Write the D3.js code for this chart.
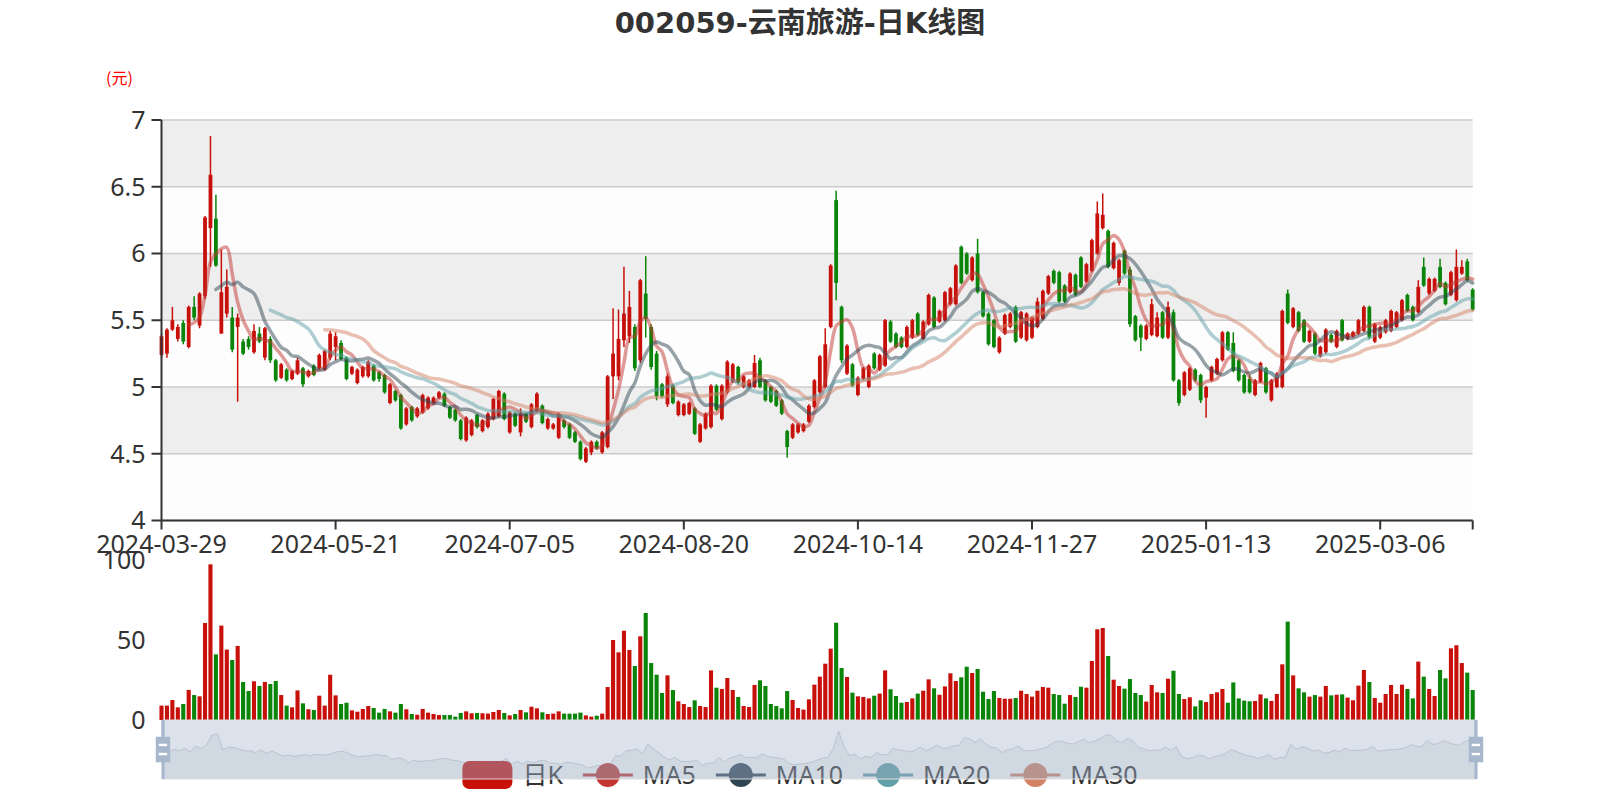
<!DOCTYPE html>
<html><head><meta charset="utf-8">
<script src="https://cdn.jsdelivr.net/npm/d3@7"></script>
<style>body{margin:0;background:#fff;}svg{display:block;}</style>
</head><body>
<svg id="chart" width="1600" height="800"></svg>
<script>
// ---------- DATA ----------
const titleText = "002059-云南旅游-日K线图";
const dates = [
"2024-03-29",
"2024-04-01","2024-04-02","2024-04-03","2024-04-08","2024-04-09","2024-04-10","2024-04-11","2024-04-12","2024-04-15","2024-04-16","2024-04-17","2024-04-18","2024-04-19","2024-04-22","2024-04-23","2024-04-24","2024-04-25","2024-04-26","2024-04-29","2024-04-30",
"2024-05-06","2024-05-07","2024-05-08","2024-05-09","2024-05-10","2024-05-13","2024-05-14","2024-05-15","2024-05-16","2024-05-17","2024-05-20","2024-05-21","2024-05-22","2024-05-23","2024-05-24","2024-05-27","2024-05-28","2024-05-29","2024-05-30","2024-05-31",
"2024-06-03","2024-06-04","2024-06-05","2024-06-06","2024-06-07","2024-06-11","2024-06-12","2024-06-13","2024-06-14","2024-06-17","2024-06-18","2024-06-19","2024-06-20","2024-06-21","2024-06-24","2024-06-25","2024-06-26","2024-06-27","2024-06-28",
"2024-07-01","2024-07-02","2024-07-03","2024-07-04","2024-07-05","2024-07-08","2024-07-09","2024-07-10","2024-07-11","2024-07-12","2024-07-15","2024-07-16","2024-07-17","2024-07-18","2024-07-19","2024-07-22","2024-07-23","2024-07-24","2024-07-25","2024-07-26","2024-07-29","2024-07-30","2024-07-31",
"2024-08-01","2024-08-02","2024-08-05","2024-08-06","2024-08-07","2024-08-08","2024-08-09","2024-08-12","2024-08-13","2024-08-14","2024-08-15","2024-08-16","2024-08-19","2024-08-20","2024-08-21","2024-08-22","2024-08-23","2024-08-26","2024-08-27","2024-08-28","2024-08-29","2024-08-30",
"2024-09-02","2024-09-03","2024-09-04","2024-09-05","2024-09-06","2024-09-09","2024-09-10","2024-09-11","2024-09-12","2024-09-13","2024-09-18","2024-09-19","2024-09-20","2024-09-23","2024-09-24","2024-09-25","2024-09-26","2024-09-27","2024-09-30",
"2024-10-08","2024-10-09","2024-10-10","2024-10-11","2024-10-14","2024-10-15","2024-10-16","2024-10-17","2024-10-18","2024-10-21","2024-10-22","2024-10-23","2024-10-24","2024-10-25","2024-10-28","2024-10-29","2024-10-30","2024-10-31",
"2024-11-01","2024-11-04","2024-11-05","2024-11-06","2024-11-07","2024-11-08","2024-11-11","2024-11-12","2024-11-13","2024-11-14","2024-11-15","2024-11-18","2024-11-19","2024-11-20","2024-11-21","2024-11-22","2024-11-25","2024-11-26","2024-11-27","2024-11-28","2024-11-29",
"2024-12-02","2024-12-03","2024-12-04","2024-12-05","2024-12-06","2024-12-09","2024-12-10","2024-12-11","2024-12-12","2024-12-13","2024-12-16","2024-12-17","2024-12-18","2024-12-19","2024-12-20","2024-12-23","2024-12-24","2024-12-25","2024-12-26","2024-12-27","2024-12-30","2024-12-31",
"2025-01-02","2025-01-03","2025-01-06","2025-01-07","2025-01-08","2025-01-09","2025-01-10","2025-01-13","2025-01-14","2025-01-15","2025-01-16","2025-01-17","2025-01-20","2025-01-21","2025-01-22","2025-01-23","2025-01-24","2025-01-27",
"2025-02-05","2025-02-06","2025-02-07","2025-02-10","2025-02-11","2025-02-12","2025-02-13","2025-02-14","2025-02-17","2025-02-18","2025-02-19","2025-02-20","2025-02-21","2025-02-24","2025-02-25","2025-02-26","2025-02-27","2025-02-28",
"2025-03-03","2025-03-04","2025-03-05","2025-03-06","2025-03-07","2025-03-10","2025-03-11","2025-03-12","2025-03-13","2025-03-14","2025-03-17","2025-03-18","2025-03-19","2025-03-20","2025-03-21","2025-03-24","2025-03-25","2025-03-26","2025-03-27","2025-03-28","2025-03-31"
];
// [open, close, low, high]
const kData = [
[5.24,5.38,5.22,5.40],[5.25,5.43,5.22,5.44],[5.43,5.50,5.42,5.60],[5.36,5.45,5.34,5.47],[5.48,5.34,5.32,5.50],
[5.30,5.60,5.29,5.61],[5.60,5.52,5.50,5.68],[5.46,5.70,5.44,5.71],[5.68,6.27,5.66,6.28],[6.19,6.59,5.90,6.88],
[6.26,5.91,5.90,6.44],[5.40,5.71,5.40,6.03],[5.55,5.75,5.52,5.88],[5.52,5.28,5.26,5.60],[5.45,5.52,4.89,5.55],
[5.34,5.25,5.24,5.36],[5.36,5.30,5.28,5.38],[5.26,5.42,5.25,5.47],[5.40,5.34,5.33,5.45],[5.22,5.44,5.20,5.45],
[5.36,5.20,5.18,5.38],[5.20,5.05,5.04,5.21],[5.07,5.17,5.06,5.18],[5.13,5.05,5.04,5.14],[5.06,5.12,5.05,5.13],
[5.10,5.20,5.09,5.22],[5.14,5.02,5.00,5.15],[5.08,5.12,5.07,5.13],[5.16,5.09,5.08,5.17],[5.14,5.24,5.13,5.25],
[5.13,5.27,5.12,5.28],[5.22,5.40,5.20,5.42],[5.30,5.38,5.20,5.41],[5.33,5.21,5.20,5.35],[5.22,5.06,5.05,5.23],
[5.10,5.15,5.09,5.16],[5.03,5.13,5.02,5.14],[5.08,5.15,5.07,5.16],[5.08,5.19,5.07,5.20],[5.16,5.05,5.04,5.17],
[5.11,5.06,5.04,5.12],[5.09,4.96,4.95,5.10],[4.88,5.02,4.87,5.03],[4.97,4.90,4.89,4.98],[4.94,4.69,4.68,4.95],
[4.72,4.84,4.71,4.85],[4.85,4.75,4.74,4.86],[4.78,4.84,4.77,4.85],[4.81,4.94,4.80,4.95],[4.84,4.92,4.83,4.93],
[4.88,4.92,4.87,4.93],[4.92,4.96,4.91,4.97],[4.95,4.86,4.85,4.96],[4.85,4.77,4.76,4.86],[4.83,4.75,4.74,4.84],
[4.75,4.61,4.60,4.76],[4.60,4.77,4.59,4.78],[4.64,4.75,4.63,4.76],[4.79,4.70,4.69,4.80],[4.67,4.75,4.66,4.76],
[4.70,4.80,4.69,4.81],[4.76,4.91,4.75,4.92],[4.78,4.97,4.77,4.98],[4.95,4.76,4.75,4.96],[4.66,4.81,4.65,4.82],
[4.80,4.71,4.70,4.81],[4.66,4.80,4.63,4.84],[4.80,4.74,4.73,4.81],[4.70,4.87,4.69,4.88],[4.82,4.95,4.81,4.96],
[4.86,4.73,4.72,4.87],[4.69,4.76,4.68,4.77],[4.69,4.72,4.68,4.73],[4.62,4.80,4.61,4.81],[4.75,4.70,4.69,4.76],
[4.72,4.62,4.61,4.73],[4.66,4.59,4.58,4.67],[4.59,4.46,4.45,4.60],[4.44,4.54,4.43,4.55],[4.51,4.59,4.49,4.60],
[4.59,4.54,4.53,4.60],[4.51,4.66,4.50,4.67],[4.55,5.08,4.54,5.09],[5.08,5.25,4.91,5.59],[5.08,5.36,5.05,5.58],
[5.35,5.55,5.30,5.90],[5.38,5.60,5.33,5.72],[5.45,5.14,5.12,5.47],[5.20,5.80,5.18,5.81],[5.70,5.51,5.37,5.98],
[5.45,5.15,5.13,5.47],[5.25,4.93,4.90,5.27],[5.02,4.93,4.92,5.03],[4.87,5.08,4.85,5.10],[5.01,4.88,4.87,5.02],
[4.79,4.89,4.78,4.90],[4.79,4.87,4.78,4.88],[4.80,4.88,4.79,4.89],[4.84,4.65,4.64,4.85],[4.59,4.72,4.58,4.73],
[4.69,4.80,4.68,4.81],[4.70,5.01,4.69,5.02],[5.01,4.83,4.82,5.02],[4.76,5.01,4.75,5.02],[4.96,5.19,4.95,5.20],
[5.04,5.17,5.03,5.18],[5.15,5.03,5.02,5.16],[5.00,5.08,4.99,5.09],[5.00,5.05,4.99,5.06],[5.00,5.18,4.99,5.24],
[5.20,5.00,4.99,5.22],[5.05,4.90,4.89,5.06],[5.00,4.89,4.88,5.01],[4.97,4.86,4.85,4.98],[4.90,4.80,4.79,4.91],
[4.67,4.55,4.47,4.68],[4.62,4.72,4.61,4.73],[4.66,4.72,4.65,4.73],[4.67,4.72,4.66,4.73],[4.74,4.86,4.73,4.87],
[4.85,5.05,4.84,5.06],[4.96,5.23,4.95,5.24],[5.00,5.32,4.99,5.44],[5.45,5.91,5.44,5.92],[6.40,5.78,5.65,6.47],
[5.60,5.20,5.18,5.61],[5.10,5.31,5.09,5.32],[5.17,5.01,5.00,5.18],[4.94,5.07,4.93,5.08],[5.06,5.14,5.05,5.15],
[5.00,5.16,4.99,5.17],[5.25,5.14,5.13,5.26],[5.13,5.24,5.12,5.25],[5.16,5.50,5.15,5.51],[5.49,5.34,5.33,5.50],
[5.40,5.30,5.29,5.41],[5.37,5.30,5.29,5.38],[5.30,5.45,5.29,5.46],[5.37,5.50,5.36,5.51],[5.55,5.39,5.38,5.56],
[5.36,5.49,5.35,5.50],[5.47,5.69,5.46,5.70],[5.67,5.45,5.44,5.68],[5.49,5.57,5.48,5.58],[5.50,5.71,5.49,5.72],
[5.62,5.74,5.61,5.75],[5.62,5.91,5.61,5.92],[6.05,5.78,5.77,6.06],[6.00,5.85,5.84,6.01],[5.80,5.97,5.79,5.98],
[6.00,5.71,5.70,6.11],[5.71,5.53,5.52,5.72],[5.55,5.32,5.31,5.56],[5.50,5.30,5.29,5.51],[5.26,5.37,5.25,5.38],
[5.40,5.54,5.39,5.55],[5.45,5.55,5.44,5.56],[5.60,5.34,5.33,5.61],[5.37,5.56,5.36,5.57],[5.35,5.55,5.34,5.56],
[5.37,5.52,5.36,5.53],[5.45,5.64,5.44,5.67],[5.51,5.72,5.50,5.73],[5.70,5.83,5.69,5.84],[5.87,5.78,5.77,5.88],
[5.86,5.64,5.63,5.87],[5.76,5.64,5.63,5.77],[5.71,5.85,5.70,5.86],[5.84,5.69,5.68,5.85],[5.97,5.75,5.74,5.98],
[5.79,5.92,5.78,5.93],[5.87,6.10,5.86,6.11],[6.00,6.30,5.99,6.39],[6.19,6.29,6.18,6.45],[6.17,5.90,5.89,6.18],
[5.89,6.08,5.88,6.09],[5.78,5.95,5.76,5.96],[6.02,5.85,5.84,6.03],[5.88,5.47,5.45,5.90],[5.53,5.35,5.34,5.54],
[5.46,5.37,5.27,5.47],[5.36,5.46,5.35,5.47],[5.39,5.62,5.38,5.66],[5.38,5.52,5.37,5.56],[5.56,5.37,5.36,5.57],
[5.37,5.60,5.36,5.64],[5.56,5.05,5.04,5.58],[5.05,4.88,4.86,5.06],[4.94,5.11,4.93,5.12],[4.98,5.14,4.97,5.15],
[5.13,5.05,5.04,5.14],[5.09,4.90,4.88,5.10],[4.92,5.00,4.77,5.01],[5.05,5.15,5.04,5.16],[5.10,5.21,5.09,5.22],
[5.20,5.41,5.19,5.42],[5.41,5.28,5.27,5.42],[5.33,5.12,5.11,5.41],[5.20,5.05,5.04,5.21],[5.09,4.96,4.95,5.10],
[5.06,4.96,4.95,5.09],[4.94,5.05,4.93,5.06],[5.04,5.18,5.03,5.19],[5.14,4.96,4.95,5.15],[4.90,5.05,4.89,5.06],
[5.00,5.10,4.99,5.11],[5.00,5.57,4.99,5.58],[5.70,5.48,5.47,5.73],[5.45,5.59,5.44,5.60],[5.56,5.42,5.41,5.57],
[5.50,5.34,5.33,5.51],[5.34,5.42,5.33,5.43],[5.40,5.25,5.24,5.41],[5.23,5.30,5.22,5.31],[5.26,5.43,5.25,5.44],
[5.39,5.34,5.33,5.40],[5.30,5.42,5.29,5.43],[5.50,5.35,5.34,5.51],[5.36,5.40,5.35,5.41],[5.38,5.41,5.37,5.42],
[5.40,5.50,5.39,5.51],[5.42,5.60,5.41,5.61],[5.60,5.37,5.36,5.61],[5.34,5.47,5.33,5.48],[5.37,5.45,5.36,5.46],
[5.41,5.50,5.40,5.51],[5.42,5.57,5.41,5.58],[5.45,5.56,5.44,5.57],[5.50,5.65,5.49,5.66],[5.69,5.57,5.56,5.70],
[5.60,5.50,5.49,5.61],[5.56,5.75,5.55,5.80],[5.90,5.76,5.75,5.97],[5.70,5.81,5.69,5.82],[5.72,5.81,5.71,5.82],
[5.90,5.75,5.74,5.96],[5.78,5.62,5.61,5.79],[5.69,5.86,5.68,5.87],[5.65,5.90,5.64,6.03],[5.85,5.90,5.84,5.95],
[5.94,5.80,5.79,5.96],[5.73,5.58,5.57,5.74]
];
const volumes = [
9.0,9.0,12.5,7.9,10,18.8,15.6,14.8,60.6,97.3,41,59,44,37.5,46.3,23.8,18.1,24.2,21.3,23.8,
22.5,24.4,15.6,9.0,7.9,18.5,10.4,6.7,6.3,15.2,9.0,28.3,15.4,10,10.8,6.0,5.2,6.9,8.75,7.5,
4.6,6.9,5.4,4.6,10,6.7,3.75,3.3,6.9,4.6,3.75,3.1,3.1,3.1,2.1,4.4,5.4,4.2,4.4,4.2,
4.0,5,6.25,4.4,2.9,3.75,6.25,4.8,8.3,7.3,4.8,3.75,4,5.4,4,4,4,4.6,2.9,2.1,
2.7,4,20.6,50,42.3,55.8,43.75,33.75,52.3,66.9,35.6,28.3,16.9,27.9,18.75,11.7,10,8.1,12.3,8.75,
8.1,31,20.2,19.4,26.25,18.75,14.4,8.75,8.1,21.9,24.8,21.25,10,8.75,7.3,18.1,12.5,7.5,6.5,12.9,
22.1,27.1,35.2,44.6,60.8,32.5,26.9,17.1,14.8,14.4,13.5,15.2,16.5,31,19.2,15,10.8,11.25,13.5,16.5,
18.3,25.4,19.8,15.8,21,29.2,24.4,26.7,33.3,29.4,31.9,17.7,13.1,18.1,13.75,13.3,13.3,13.75,18.3,16.25,
14.6,18.3,20.6,20.2,16.25,15.6,10.2,15.6,14.4,20.8,20.2,36.9,56.7,57.5,40,25.2,21.25,19.6,25.6,16.9,
15.6,11.5,21.9,17.3,16.9,25.8,30.8,16.25,13.1,14.2,8.5,12.3,11.25,16.25,17.3,19.4,10.8,23.5,13.5,12.1,
11.7,11.9,16,13.5,11.9,16.25,34.8,61.5,27.9,19.8,17.3,14.6,15.6,14.6,21.25,15.4,15.8,16,14.0,12.3,
21.5,31.25,23.75,13.75,10.8,16.25,21.9,16.25,22.1,19.4,13.5,36.5,27.1,19.4,15,31.25,26,44.8,46.7,35.6,
29.6,18.75
];
const maPeriods = [5, 10, 20, 30];
const seriesNames = ["日K", "MA5", "MA10", "MA20", "MA30"];
const priceTicks = [4, 4.5, 5, 5.5, 6, 6.5, 7];
const volumeTicks = [0, 50, 100];
const labelEvery = 32;
const yAxisName = "(元)";

// ---------- STYLE ----------
const upColor = "#c8100a", downColor = "#0a850a";
const maColors = ["#c23531", "#2f4554", "#61a0a8", "#d48265"];
const textColor = "#333";
const FONT = '"Noto Sans", "Noto Sans CJK SC", sans-serif';

const N = dates.length;
const gridL = 161.5, gridR = 1472.7;
const priceTop = 120, priceBottom = 520.5;
const volTop = 560, volBottom = 720;
const sliderX0 = 163, sliderX1 = 1476, sliderY0 = 720, sliderY1 = 779;

const svg = d3.select("#chart");
const x = d3.scalePoint().domain(d3.range(N)).range([gridL, gridR]).padding(0);
const yP = d3.scaleLinear().domain([priceTicks[0], priceTicks[priceTicks.length - 1]]).range([priceBottom, priceTop]);
const yV = d3.scaleLinear().domain([volumeTicks[0], volumeTicks[volumeTicks.length - 1]]).range([volBottom, volTop]);

// title
svg.append("text").attr("x", 800).attr("y", 33)
  .attr("text-anchor", "middle")
  .style("font-family", '"DejaVu Sans", "Noto Sans CJK SC", sans-serif')
  .style("font-weight", "bold").style("font-size", "29px").style("fill", textColor)
  .text(titleText);

// y axis name
svg.append("text").attr("x", 119.5).attr("y", 84).attr("text-anchor", "middle")
  .style("font-family", '"Noto Sans CJK SC", sans-serif').style("font-size", "16px")
  .style("fill", "#ff0000").text(yAxisName);

// split areas
const gPrice = svg.append("g");
for (let k = 0; k < priceTicks.length - 1; k++) {
  gPrice.append("rect")
    .attr("x", gridL).attr("width", gridR - gridL)
    .attr("y", yP(priceTicks[k + 1])).attr("height", yP(priceTicks[k]) - yP(priceTicks[k + 1]))
    .attr("fill", k % 2 === 0 ? "rgba(250,250,250,0.3)" : "rgba(200,200,200,0.3)");
}
// split lines
priceTicks.forEach(t => {
  gPrice.append("line").attr("x1", gridL).attr("x2", gridR)
    .attr("y1", yP(t)).attr("y2", yP(t))
    .attr("stroke", "#ccc").attr("stroke-width", 1.6);
});

// candles
const bodyW = 3.8;
const gC = svg.append("g");
kData.forEach((d, i) => {
  const [o, c, lo, hi] = d;
  const up = c >= o;
  const col = up ? upColor : downColor;
  const cx = x(i);
  gC.append("line").attr("x1", cx).attr("x2", cx)
    .attr("y1", yP(hi)).attr("y2", yP(lo))
    .attr("stroke", col).attr("stroke-width", 1.5);
  const yTop = yP(Math.max(o, c)), yBot = yP(Math.min(o, c));
  gC.append("rect").attr("x", cx - bodyW / 2).attr("width", bodyW)
    .attr("y", yTop).attr("height", Math.max(1, yBot - yTop))
    .attr("fill", col);
});

// moving averages (as the original chart: close-based, starting at index = period)
const closes = kData.map(d => d[1]);
function movingAverage(period) {
  return closes.map((v, i) => {
    if (i < period) return null;
    let s = 0;
    for (let j = 0; j < period; j++) s += closes[i - j];
    return s / period;
  });
}
const gMA = svg.append("g");
maPeriods.forEach((p, k) => {
  const vals = movingAverage(p);
  const line = d3.line()
    .defined(v => v !== null)
    .x((v, i) => x(i)).y(v => yP(v))
    .curve(d3.curveCatmullRom.alpha(0.5));
  gMA.append("path").attr("d", line(vals))
    .attr("fill", "none").attr("stroke", maColors[k])
    .attr("stroke-width", 3.5).attr("stroke-opacity", 0.5)
    .attr("stroke-linejoin", "round").attr("stroke-linecap", "round");
});

// price y axis
const gAxis = svg.append("g");
gAxis.append("line").attr("x1", gridL).attr("x2", gridL).attr("y1", priceTop).attr("y2", priceBottom)
  .attr("stroke", textColor).attr("stroke-width", 2);
priceTicks.forEach(t => {
  gAxis.append("line").attr("x1", gridL - 10).attr("x2", gridL).attr("y1", yP(t)).attr("y2", yP(t))
    .attr("stroke", textColor).attr("stroke-width", 2);
  gAxis.append("text").attr("x", gridL - 16).attr("y", yP(t)).attr("dy", "0.35em")
    .attr("text-anchor", "end").style("font-family", FONT).style("font-size", "25px")
    .style("fill", textColor).text(String(t));
});
// x axis
gAxis.append("line").attr("x1", gridL).attr("x2", gridR).attr("y1", priceBottom).attr("y2", priceBottom)
  .attr("stroke", textColor).attr("stroke-width", 2);
const tickIdx = d3.range(0, N, labelEvery);
tickIdx.concat([N - 1]).forEach(i => {
  gAxis.append("line").attr("x1", x(i)).attr("x2", x(i)).attr("y1", priceBottom).attr("y2", priceBottom + 9)
    .attr("stroke", textColor).attr("stroke-width", 2);
});
tickIdx.forEach(i => {
  gAxis.append("text").attr("x", x(i)).attr("y", 553).attr("text-anchor", "middle")
    .style("font-family", FONT).style("font-size", "25px").style("fill", textColor)
    .text(dates[i]);
});

// volume
const gV = svg.append("g");
const volW = 4.1;
volumes.forEach((v, i) => {
  const up = kData[i][1] >= kData[i][0];
  gV.append("rect").attr("x", x(i) - volW / 2).attr("width", volW)
    .attr("y", yV(v)).attr("height", yV(0) - yV(v))
    .attr("fill", up ? upColor : downColor);
});
volumeTicks.forEach(t => {
  gV.append("text").attr("x", gridL - 16).attr("y", yV(t)).attr("dy", "0.35em")
    .attr("text-anchor", "end").style("font-family", FONT).style("font-size", "25px")
    .style("fill", textColor).text(String(t));
});

// legend (drawn below the slider)
const gL = svg.append("g");
const iconW = 50, iconH = 28, textGap = 10, itemGap = 20, legendY = 775;
const items = seriesNames.map((name, k) => {
  const g = gL.append("g");
  const t = g.append("text").attr("y", legendY).attr("dy", "0.35em")
    .style("font-family", FONT).style("font-size", "25px").style("fill", textColor).text(name);
  return { g, t, name, k, w: t.node().getComputedTextLength() };
});
const totalW = d3.sum(items, it => iconW + textGap + it.w) + itemGap * (items.length - 1);
let cursor = 800 - totalW / 2;
items.forEach(it => {
  const col = it.k === 0 ? upColor : maColors[it.k - 1];
  if (it.k === 0) {
    it.g.append("rect").attr("x", cursor).attr("y", legendY - iconH / 2)
      .attr("width", iconW).attr("height", iconH).attr("rx", 7).attr("fill", col);
  } else {
    it.g.append("line").attr("x1", cursor).attr("x2", cursor + iconW)
      .attr("y1", legendY).attr("y2", legendY).attr("stroke", col).attr("stroke-width", 3);
    it.g.append("circle").attr("cx", cursor + iconW / 2).attr("cy", legendY).attr("r", 12).attr("fill", col);
  }
  it.t.attr("x", cursor + iconW + textGap);
  cursor += iconW + textGap + it.w + itemGap;
});

// data zoom slider with data shadow of opens
const gS = svg.append("g");
const opens = kData.map(d => d[0]);
const oMin = d3.min(opens), oMax = d3.max(opens), oPad = (oMax - oMin) * 0.3;
const sx = d3.scaleLinear().domain([0, N - 1]).range([sliderX0, sliderX1]);
const sy = d3.scaleLinear().domain([oMin - oPad, oMax + oPad]).range([sliderY1, sliderY0]);
gS.append("path")
  .attr("d", d3.area().x((v, i) => sx(i)).y0(sliderY1).y1(v => sy(v))(opens))
  .attr("fill", "rgba(47,69,84,0.3)").attr("fill-opacity", 0.3);
gS.append("path")
  .attr("d", d3.line().x((v, i) => sx(i)).y(v => sy(v))(opens))
  .attr("fill", "none").attr("stroke", "#2f4554").attr("stroke-opacity", 0.3).attr("stroke-width", 0.8);
gS.append("rect").attr("x", sliderX0).attr("y", sliderY0)
  .attr("width", sliderX1 - sliderX0).attr("height", sliderY1 - sliderY0)
  .attr("fill", "rgba(167,183,204,0.4)").attr("stroke", "#ddd").attr("stroke-width", 1);
const handlePath = "M8.2,13.6V3.9H6.3v9.7H3.1v14.9h3.3v9.7h1.8v-9.7h3.3V13.6H8.2z";
const hScale = (sliderY1 - sliderY0) / (38.2 - 3.9);
[sliderX0, sliderX1].forEach(hx => {
  const tx = hx - 7.3 * hScale, ty = (sliderY0 + sliderY1) / 2 - 21.05 * hScale;
  const hg = gS.append("g").attr("transform", `translate(${tx},${ty}) scale(${hScale})`);
  hg.append("path").attr("d", handlePath).attr("fill", "#a7b7cc");
  hg.append("rect").attr("x", 4.8).attr("y", 23.0).attr("width", 4.9).attr("height", 1.4).attr("fill", "#fff");
  hg.append("rect").attr("x", 4.8).attr("y", 17.7).attr("width", 4.9).attr("height", 1.4).attr("fill", "#fff");
});
</script>
</body></html>
